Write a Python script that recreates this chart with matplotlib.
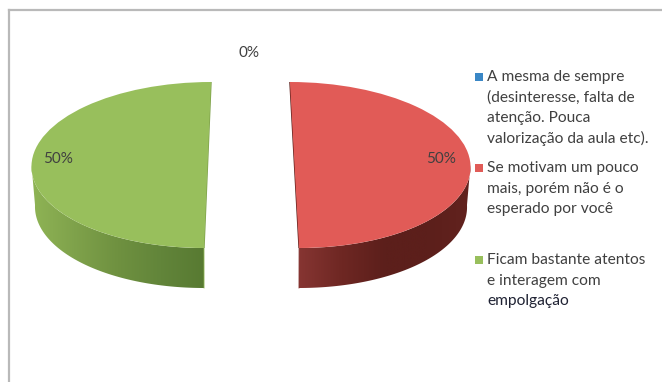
import numpy as np
import matplotlib
matplotlib.use("Agg")
from matplotlib import pyplot as plt
from matplotlib.colors import LinearSegmentedColormap
from matplotlib.patches import Polygon, Rectangle
from matplotlib.lines import Line2D
from matplotlib.transforms import Affine2D

plt.rcParams['font.family'] = ['Lato', 'DejaVu Sans']

W, H = 662, 382

values = [0, 50, 50]
pct_labels = ["0%", "50%", "50%"]
legend_labels = [
    ["A mesma de sempre", "(desinteresse, falta de", "atenção. Pouca", "valorização da aula etc)."],
    ["Se motivam um pouco", "mais, porém não é o", "esperado por você"],
    ["Ficam bastante atentos", "e interagem com", "empolgação"],
]
colors = ["#3a87c6", "#e15b57", "#98bf5c"]
edge_colors = ["#2a6496", "#5c1f1b", "#7ea14a"]
wall_stops = [
    None,
    ["#863532", "#6e2723", "#5c1f1b", "#5c1f1b", "#62221e"],
    ["#8fb455", "#7fa24b", "#6f9140", "#62853a", "#587a32"],
]
lean = [0, -0.026, 0.02]

# pie units: 176 px across, 83 px down, centred on (251, 165)
XU, YU = 176.0, 83.0
CX, CY = 251.0, 165.0
depth = 40 / YU
shrink = 0.98

fig = plt.figure(figsize=(W / 100, H / 100), dpi=100)
ax = fig.add_axes([0, 0, 1, 1])

wedges, _ = ax.pie(values, colors=colors, startangle=90, counterclock=False,
                   explode=[0, 43.5 / XU, 43.5 / XU], radius=1)
ax.set_aspect('auto')
ax.axis('off')

for i, w in enumerate(wedges):
    w.set_transform(Affine2D.from_values(1, 0, lean[i], 1, 0, 0) + ax.transData)
    w.set_zorder(3)
    if wall_stops[i] is None:
        continue
    cx, cy = w.center
    r = w.r
    # front wall: only the part of the rim that faces downwards
    low = max(w.theta1, -180 if w.theta2 <= 0 else -90)
    high = min(w.theta2, 0)
    t = np.radians(np.linspace(low, high, 120))
    xt = cx + r * np.cos(t) + lean[i] * r * np.sin(t)
    yt = r * np.sin(t)
    xb = cx + shrink * (r * np.cos(t) + lean[i] * r * np.sin(t))
    yb = yt - depth
    pts = np.column_stack([np.r_[xt, xb[::-1]], np.r_[yt, yb[::-1]]])
    wall = Polygon(pts, closed=True, facecolor='none', edgecolor='none', transform=ax.transData)
    ax.add_patch(wall)
    cmap = LinearSegmentedColormap.from_list("wall%d" % i, wall_stops[i])
    grad = np.linspace(0, 1, 256).reshape(1, -1)
    im = ax.imshow(grad, cmap=cmap, aspect='auto', zorder=2,
                   extent=[pts[:, 0].min(), pts[:, 0].max(), pts[:, 1].min(), pts[:, 1].max()])
    im.set_clip_path(wall)
    # thin edge of the cut face
    ax.plot([cx + lean[i], cx - lean[i]], [1, -1], color=edge_colors[i],
            lw=1.0, zorder=2.5, solid_capstyle='butt')
    ax.plot([cx - lean[i], cx - lean[i] * shrink], [-1, -1 - depth], color=wall_stops[i][0],
            lw=0.6, zorder=2.5)

ax.set_xlim(-CX / XU, (W - CX) / XU)
ax.set_ylim(-(H - CY) / YU, CY / YU)


def px(x, y):
    return x / W, 1 - y / H


# frame of the chart area
for xs, ys in [((8.5, 8.5), (9.5, H)), ((8.5, W - 1), (9.5, 9.5))]:
    fig.add_artist(Line2D([x / W for x in xs], [1 - y / H for y in ys], color="#b9b9b9", lw=1.6))

text_col = "#404040"
pct_pos = [(249, 53), (58.5, 159), (441.5, 159)]
for lab, (x, y) in zip(pct_labels, pct_pos):
    fig.text(*px(x, y), lab, ha='center', va='center', fontsize=11, color=text_col, zorder=5)

# legend entries sit on a fixed pitch, hence no ax.legend
starts = [77, 168, 260]
line_h = 20.6
for i, lines in enumerate(legend_labels):
    fig.add_artist(Rectangle((475 / W, 1 - (starts[i] + 4) / H), 8 / W, 8 / H,
                             transform=fig.transFigure, facecolor=colors[i], edgecolor='none'))
    for j, line in enumerate(lines):
        col = "#1f2233" if line == "empolgação" else text_col
        fig.text(*px(487, starts[i] + j * line_h), line, ha='left', va='center',
                 fontsize=11.2, color=col)

fig.savefig("out.png", dpi=100, facecolor='white')
